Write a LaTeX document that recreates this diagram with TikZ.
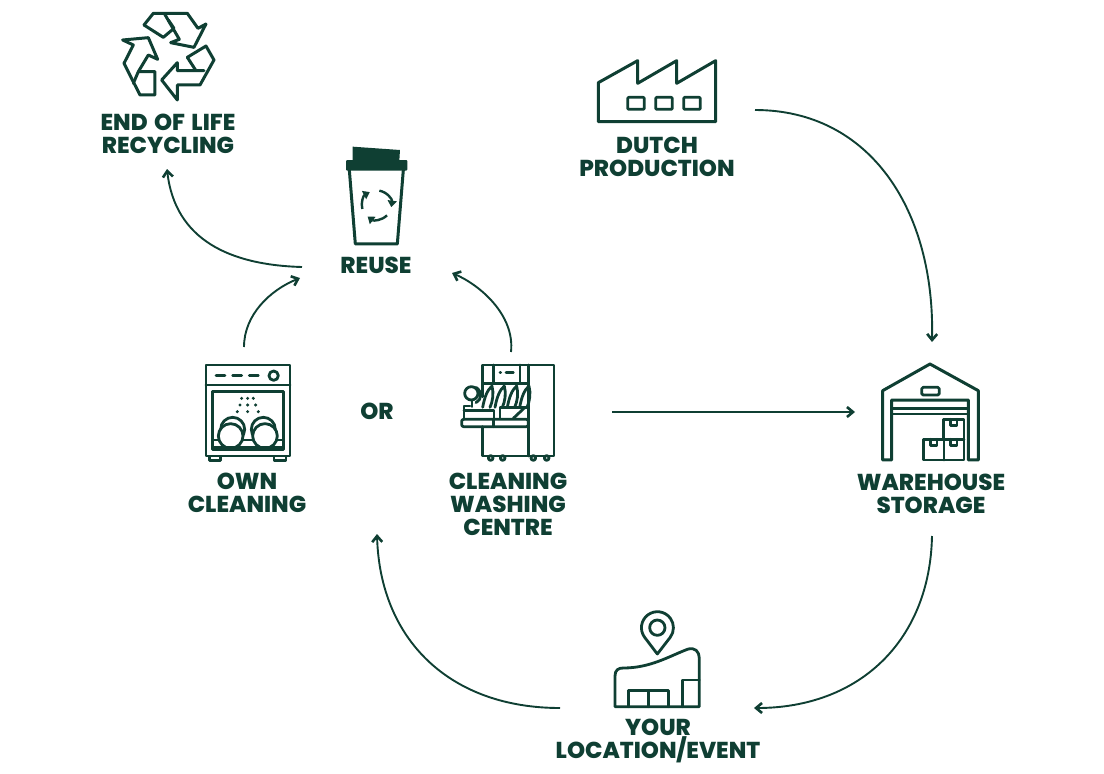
\documentclass[tikz,border=0pt]{standalone}
\usepackage{fontspec}
\setmainfont{Poppins}[BoldFont={Poppins ExtraBold}]
\usetikzlibrary{arrows.meta}
\definecolor{dg}{HTML}{0F3F33}
\tikzset{
 lbl/.style={font=\fontsize{23}{23}\selectfont\bfseries,text=dg,align=center,inner sep=0pt},
 icon/.style={draw=dg,line width=3pt,line join=round,line cap=round},
 icons/.style={icon,line width=2.8pt},
 link/.style={draw=dg,line width=1.9pt,-{Straight Barb[length=6pt,width=10pt,line width=2.6pt]}},
 cuparrow/.style={icon,line width=2.4pt,line cap=butt,-{Triangle[length=6.5pt,width=9pt]}},
 z/.style={shift={#1},x=0.3333pt,y=-0.3333pt}
}
\begin{document}
\begin{tikzpicture}[x=1pt,y=-1pt]
\useasboundingbox (0,0) rectangle (1104,774);
% labels
\node[lbl] (eol) at (168,134) {END\hspace{2pt} OF\hspace{2pt} LIFE\\RECYCLING};
\node[lbl] (reuse) at (376,265.5) {REUSE};
\node[lbl] (dutch) at (657,157) {DUTCH\\PRODUCTION};
\node[lbl] (or) at (377,411.5) {OR};
\node[lbl] (own) at (247,493) {OWN\\CLEANING};
\node[lbl] (wash) at (508,504.5) {CLEANING\\WASHING\\CENTRE};
\node[lbl] (ware) at (931,494) {WAREHOUSE\\STORAGE};
\node[lbl] (loc) at (658,741) {YOUR\\LOCATION/EVENT};
% recycle
\begin{scope}[z={(100,0)}]
\draw[icon] (132,75)--(160,40)--(262,40)--(294,85)--(318,72)--(282,142)--(212,128)--(238,118)--(195,44);
\draw[icon] (205,60)--(222,85)--(190,112)--(132,75);
\draw[icon] (262,172)--(318,138)--(342,180)--(300,255)--(232,255)--(232,300)--(185,240)--(232,188)--(232,212)--(312,212);
\draw[icon] (262,172)--(288,212);
\draw[icon] (68,120)--(145,113)--(173,178)--(145,165)--(115,215)--(165,215)--(165,285)--(120,285)--(72,190)--(100,135)--cycle;
\draw[icon] (115,215)--(100,250);
\end{scope}
% cup
\begin{scope}[z={(320,140)}]
\fill[dg] (98,20)--(240,30)--(238,62)--(98,62)--cycle;
\fill[dg,rounded corners=1pt] (78,60) rectangle (262,92);
\draw[icon] (88,90)--(106,312)--(232,312)--(250,90);
\draw[cuparrow] (178,152) arc[start angle=-80,end angle=8,radius=44];
\draw[cuparrow] (201,226) arc[start angle=45,end angle=128,radius=44];
\draw[cuparrow] (127,207) arc[start angle=165,end angle=243,radius=44];
\end{scope}
% dishwasher
\begin{scope}[z={(190,350)}]
\draw[icons] (48,45) rectangle (300,318);
\draw[icons] (48,105)--(300,105);
\draw[icons] (78,77)--(105,77) (128,77)--(155,77) (178,77)--(205,77);
\draw[icons] (251,77) circle[radius=14];
\draw[icons] (68,125) rectangle (280,298);
\draw[icons] (68,270)--(280,270);
\draw[icons,fill=white] (128,238) circle[radius=36];
\draw[icons,fill=white] (220,238) circle[radius=36];
\draw[icons,fill=white] (122,258) circle[radius=37];
\draw[icons,fill=white] (225,258) circle[radius=37];
\fill[dg] (68,288) rectangle (280,300);
\foreach \p in {(155,145),(173,145),(190,145),(150,165),(173,165),(197,165),(142,185),(173,185),(205,185)} \fill[dg] \p circle[radius=5];
\draw[icons] (58,320)--(58,332)--(92,332)--(92,320);
\draw[icons] (252,320)--(252,332)--(288,332)--(288,320);
\end{scope}
% washing centre
\begin{scope}[z={(450,350)}]
\draw[icons] (98,140)--(98,45)--(312,45)--(312,318)--(98,318)--(98,230);
\draw[icons] (235,45)--(235,318);
\draw[icons] (98,100)--(235,100);
\draw[icons] (130,45)--(130,100) (210,45)--(210,100);
\draw[icons] (150,67)--(152,67) (168,67)--(190,67);
\draw[icons,rounded corners=2pt] (35,208) rectangle (235,230);
\draw[icons] (130,208)--(130,230);
\draw[icons] (42,208)--(42,168)--(60,168) (110,182)--(132,182)--(132,208);
\draw[icons] (42,182)--(110,182);
\draw[icons] (150,205)--(150,172)--(235,172);
\draw[icons] (190,205)--(225,172);
\draw[icons] (64,130) circle[radius=20];
\draw[icons] (78,112) .. controls (98,125) and (95,150) .. (78,158);
\draw[icons] (66,150)--(66,170);
\foreach \a in {0,37,74,111} {
 \draw[icons,shift={(\a,0)}] (98,172) .. controls (104,140) and (112,120) .. (126,108) .. controls (132,130) and (128,155) .. (120,172);
}
\foreach \a in {122,158,250,290} \draw[icons,fill=white] (\a,324) circle[radius=7];
\end{scope}
% warehouse
\begin{scope}[z={(870,350)}]
\draw[icon] (38,330)--(38,122)--(180,42)--(325,122)--(325,330)--(295,330)--(295,150)--(65,150)--(65,330)--cycle;
\draw[icons,rounded corners=1.5pt] (155,112) rectangle (208,135);
\draw[icons] (65,175)--(295,175) (65,192)--(295,192);
\draw[icons] (220,268)--(220,208)--(282,208)--(282,330)--(160,330)--(160,268)--(282,268);
\draw[icons] (222,268)--(222,330);
\draw[icons] (241,208)--(241,226)--(261,226)--(261,208);
\draw[icons] (181,268)--(181,286)--(201,286)--(201,268);
\draw[icons] (241,268)--(241,286)--(261,286)--(261,268);
\end{scope}
% location
\begin{scope}[z={(600,600)}]
\draw[icons] (172,162) -- (134,112) arc[start angle=143,end angle=397,radius=48] -- cycle;
\draw[icons] (172,83) circle[radius=23];
\draw[icons] (45,320)--(45,228) .. controls (45,210) and (55,204) .. (70,204) .. controls (150,204) and (205,170) .. (262,148) .. controls (285,140) and (298,155) .. (298,175)--(298,320)--cycle;
\draw[icons] (85,320)--(85,272)--(205,272)--(205,320);
\draw[icons] (145,272)--(145,320);
\draw[icons] (247,320)--(247,240)--(298,240);
\end{scope}
% factory
\begin{scope}[z={(585,50)}]
\draw[icon] (40,215)--(40,98)--(158,32)--(158,100)--(275,32)--(275,100)--(392,32)--(392,215)--cycle;
\foreach \a in {128,212,296} \draw[icons,rounded corners=1pt] (\a,142) rectangle ++(50,36);
\end{scope}
% connector ends
\coordinate (a1) at (755,110); \coordinate (a2) at (932,342);
\coordinate (b1) at (932,536); \coordinate (b2) at (754,708);
\coordinate (c1) at (560,708); \coordinate (c2) at (377,534);
\coordinate (d1) at (612,412); \coordinate (d2) at (855,412);
\coordinate (e1) at (511,352); \coordinate (e2) at (452,273);
\coordinate (f1) at (244,347); \coordinate (f2) at (300,278);
\coordinate (g1) at (302,267); \coordinate (g2) at (167,169);
\draw[link] (a1) .. controls (870,110) and (935,210) .. (a2);
\draw[link] (b1) .. controls (930,640) and (860,708) .. (b2);
\draw[link] (c1) .. controls (450,708) and (380,640) .. (c2);
\draw[link] (d1) -- (d2);
\draw[link] (e1) .. controls (515,315) and (480,285) .. (e2);
\draw[link] (f1) .. controls (244,315) and (270,290) .. (f2);
\draw[link] (g1) .. controls (230,265) and (175,240) .. (g2);
\end{tikzpicture}
\end{document}
